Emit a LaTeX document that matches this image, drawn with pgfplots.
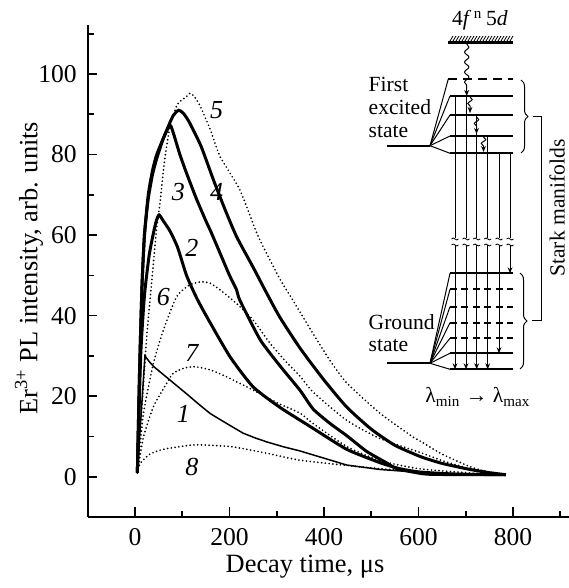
\documentclass[border=0pt]{standalone}
\usepackage{fontspec}
\setmainfont{Liberation Serif}
\usepackage{pgfplots}
\pgfplotsset{compat=1.18}
\usetikzlibrary{arrows.meta,decorations.pathmorphing,decorations.pathreplacing}

\begin{document}
\begin{tikzpicture}
\tikzset{
  thk/.style={line width=1.5bp, black, smooth, tension=0.35},
  thn/.style={line width=0.75bp, black},
  dtt/.style={line width=0.95bp, black, line cap=round, dash pattern=on 0bp off 1.9bp, smooth, tension=0.35},
  lbl/.style={font=\fontsize{13bp}{15bp}\selectfont\itshape},
}
\begin{axis}[
  scale only axis, width=240.5bp, height=246.05bp,
  xmin=-100, xmax=918, ymin=-10, ymax=112.2,
  axis lines*=left, axis line style={-, line width=1bp},
  tick align=inside, major tick length=4.8bp, minor tick length=3bp,
  tick style={line width=0.8bp, black},
  xtick={0,200,400,600,800}, minor xtick={100,300,500,700,900},
  ytick={0,20,40,60,80,100}, minor ytick={10,30,50,70,90,110},
  ticklabel style={font=\fontsize{12.8bp}{14bp}\selectfont},
  /pgf/number format/assume math mode=true,
  yticklabel style={xshift=-2bp},
  xticklabel style={yshift=-2bp},
  clip=false,
]
% 1
\addplot[thn] coordinates {(5,1) (21,30) (30,28.6) (40,27.3) (74,24) (110,20.5) (135,18) (159,15.7) (180,14.2) (200,12.8) (229,10.8) (255,9.6) (280,8.6) (315,7.4) (349,6.4) (400,4.6) (448,2.9) (518,1.8) (600,1.1) (700,0.6) (785,0.5)};
% 2
\addplot[thk] coordinates {(5,1) (12,30) (20,45) (30,55) (39,60.5) (45,63.5) (51,65) (60,63.5) (74,61) (90,57) (109,50) (130,44.5) (152,39.7) (201,29.8) (250,22.3) (307,17.2) (377,12) (448,6.8) (518,3.5) (560,2) (600,1.2) (650,0.8) (700,0.6) (785,0.5)};
% 3
\addplot[thk] coordinates {(5,1) (10,28) (15,48) (20,60) (28,69) (37,75) (46,79) (60,84) (74,87.3) (82,85) (95,80) (109,75.4) (130,69) (152,63) (160,61) (180,55.5) (200,50) (215,46.4) (222,43.8) (265,34) (307,27.5) (349,21.5) (377,16.8) (413,13.2) (448,10.2) (490,6.3) (530,3.6) (554,2) (600,0.9) (624,0.6) (700,0.5) (785,0.5)};
% 4
\addplot[thk] coordinates {(5,1) (10,28) (15,48) (20,60) (28,70) (37,76) (46,80) (67,86) (80,89.5) (92,91) (102,90.3) (115,88) (140,82) (166,73.7) (190,66.5) (215,59.6) (250,52) (279,45.5) (307,39.5) (350,31.8) (400,24) (448,17.3) (500,11.8) (550,7.8) (604,5) (650,3.3) (709,1.8) (750,1) (785,0.5)};
% 5
\addplot[dtt] coordinates {(5,1) (15,18) (25,35) (39,53) (46,62) (53,68) (62,78) (74,87) (90,92.5) (109,94.4) (116,95.2) (125,94.5) (138,92) (160,86) (180,79.5) (222,71.2) (261,59.6) (307,49) (328,45) (377,35.5) (413,28.8) (448,23.3) (518,15.8) (589,9.8) (604,8.8) (650,5.6) (709,2.5) (750,1.1) (785,0.5)};
% 6
\addplot[dtt] coordinates {(5,1) (18,15.7) (39,28.2) (60,36.4) (88,44.7) (115,47.6) (141,48.4) (160,48) (180,46.4) (215,43) (250,38.9) (286,33.1) (320,28.5) (349,25) (377,21) (448,14) (518,9.5) (604,6) (650,4) (709,2) (785,0.5)};
% 7
\addplot[dtt] coordinates {(5,1) (18,9.9) (39,17.4) (67,23.2) (81,25.7) (105,27) (128,27.3) (160,26.5) (194,24.8) (250,21.5) (307,18) (349,15.8) (377,13.2) (448,7.5) (518,4) (600,2) (700,1) (785,0.5)};
% 8
\addplot[dtt] coordinates {(5,1) (11,3.3) (30,5.5) (53,6.6) (74,7.1) (124,7.9) (160,7.8) (208,7.4) (280,5.8) (349,4.1) (448,2.8) (518,2) (600,1.2) (700,0.7) (785,0.5)};

\node[lbl] at (axis cs:173,91.1) {5};
\node[lbl] at (axis cs:173,70.8) {4};
\node[lbl] at (axis cs:92,70.8) {3};
\node[lbl] at (axis cs:120.5,56.7) {2};
\node[lbl] at (axis cs:60,44.7) {6};
\node[lbl] at (axis cs:120.5,30.6) {7};
\node[lbl] at (axis cs:102.6,15.7) {1};
\node[lbl] at (axis cs:120.5,2.5) {8};
\coordinate (O) at (axis cs:0,0);
\end{axis}

% labels and inset scheme, in pixel units of the reference (origin top-left)
\begin{scope}[shift={(O)}, xshift=-67.5bp, yshift=238.35bp, x=0.5bp, y=-0.5bp]
  \node[font=\fontsize{13.2bp}{15bp}\selectfont] at (305,567) {Decay time, μs};
  \node[font=\fontsize{13.2bp}{15bp}\selectfont, rotate=90] at (29,268) {Er\textsuperscript{3+} PL intensity, arb. units};

  \begin{scope}[font=\fontsize{10.8bp}{12bp}\selectfont, inner sep=0pt]
    \node[anchor=base west] at (451.7,26) {4\textit{f}\textsuperscript{\,n}\,5\textit{d}};
    \node[anchor=base west] at (368.3,91.7) {First};
    \node[anchor=base west] at (368.3,115) {excited};
    \node[anchor=base west] at (368.3,137.3) {state};
    \node[anchor=base west] at (368.3,329.3) {Ground};
    \node[anchor=base west] at (368.3,351.7) {state};
    \node[anchor=base west] at (425,403) {λ\textsubscript{min} → λ\textsubscript{max}};
    \node[rotate=90] at (557,208) {Stark manifolds};
  \end{scope}

  % 4f^n5d level with hatching
  \draw[line width=1.4bp] (448,42.7) -- (513.3,42.7);
  \foreach \x in {450,453,...,510} \draw[line width=0.4bp] (\x,41) -- (\x+3,36);
  % long wavy arrow
  \draw[line width=0.5bp, -{Stealth[length=3bp,width=2.4bp]}, decorate,
        decoration={snake, amplitude=1.1bp, segment length=5bp, post length=3bp}]
        (466.7,44) -- (466.7,96);
  % small wavy arrows
  \foreach \a/\b/\c in {470/97/113, 476.5/117/134, 483.5/137/152}
    \draw[line width=0.5bp, -{Stealth[length=3bp,width=2.4bp]}, decorate,
          decoration={snake, amplitude=1.1bp, segment length=4bp, post length=2.5bp}]
          (\a,\b) -- (\a,\c);

  % first excited manifold
  \draw[line width=1bp] (386.7,145.7) -- (430,145.7);
  \draw[line width=1bp, dash pattern=on 4.5bp off 3bp] (448.3,79) -- (513.3,79);
  \foreach \y in {96,115,136,153.3} \draw[line width=1bp] (450,\y) -- (513.3,\y);
  \foreach \y in {96,115,136,153.3} \draw[line width=0.5bp] (430,145.7) -- (450,\y);
  \draw[line width=0.5bp] (430,145.7) -- (448.3,79);

  % ground manifold
  \draw[line width=1bp] (386.7,363.3) -- (430,363.3);
  \foreach \y in {273.3,353.3,369.3} \draw[line width=1bp] (450,\y) -- (513.3,\y);
  \foreach \y in {289.3,306.7,322.7,338.3} \draw[line width=0.9bp, dash pattern=on 3.5bp off 2.2bp] (450,\y) -- (513.3,\y);
  \foreach \y in {273.3,289.3,306.7,322.7,338.3,353.3,369.3} \draw[line width=0.5bp] (430,363.3) -- (450,\y);

  % radiative transitions
  \foreach \x/\s in {455/96, 466/96, 476.7/115, 487.7/136}
    \draw[line width=0.5bp, -{Stealth[length=3bp,width=2.4bp]}] (\x,\s) -- (\x,369.3);
  \draw[line width=0.5bp, -{Stealth[length=3bp,width=2.4bp]}] (499,153.3) -- (499,353.3);
  \draw[line width=0.5bp, -{Stealth[length=3bp,width=2.4bp]}] (510,153.3) -- (510,273.3);
  % breaks
  \foreach \x in {455,466,476.7,487.7,499,510} {
    \fill[white] (\x-3.5,238.5) rectangle (\x+3.5,245.5);
    \draw[line width=0.4bp] (\x-3.5,239) .. controls (\x-1,235.5) and (\x+1,242.5) .. (\x+3.5,239);
    \draw[line width=0.4bp] (\x-3.5,245) .. controls (\x-1,241.5) and (\x+1,248.5) .. (\x+3.5,245);
  }

  % braces and connector
  \draw[line width=0.5bp, decorate, decoration={brace, amplitude=3.5bp}] (521,80) -- (521,153);
  \draw[line width=0.5bp, decorate, decoration={brace, amplitude=3.5bp}] (520,273) -- (520,369);
  \draw[line width=0.5bp] (533,116.5) -- (541.7,116.5) -- (541.7,321) -- (532,321);

  \pgfresetboundingbox
  \path (0,0) rectangle (569,588);
\end{scope}
\end{tikzpicture}
\end{document}
